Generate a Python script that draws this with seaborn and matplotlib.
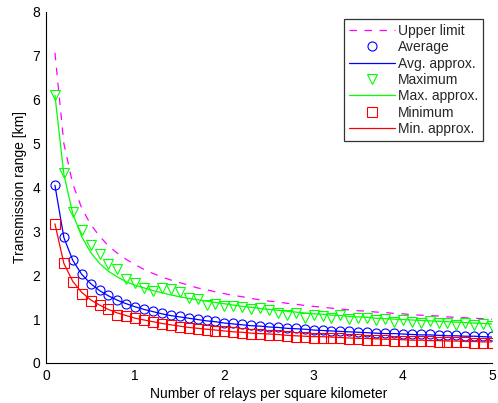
import matplotlib
matplotlib.use("Agg")
import matplotlib.pyplot as plt
import seaborn as sns
import pandas as pd

# Relay density (relays per km^2)
density = [0.1, 0.2, 0.3, 0.4, 0.5, 0.6, 0.7, 0.8, 0.9, 1.0,
           1.1, 1.2, 1.3, 1.4, 1.5, 1.6, 1.7, 1.8, 1.9, 2.0,
           2.1, 2.2, 2.3, 2.4, 2.5, 2.6, 2.7, 2.8, 2.9, 3.0,
           3.1, 3.2, 3.3, 3.4, 3.5, 3.6, 3.7, 3.8, 3.9, 4.0,
           4.1, 4.2, 4.3, 4.4, 4.5, 4.6, 4.7, 4.8, 4.9, 5.0]

# Theoretical upper limit of the transmission range [km]
upper_limit = [7.07, 5.00, 4.08, 3.53, 3.16, 2.89, 2.67, 2.50, 2.36, 2.24,
               2.13, 2.04, 1.96, 1.89, 1.83, 1.77, 1.71, 1.67, 1.62, 1.58,
               1.54, 1.51, 1.47, 1.44, 1.41, 1.39, 1.36, 1.34, 1.31, 1.29,
               1.27, 1.25, 1.23, 1.21, 1.19, 1.18, 1.16, 1.15, 1.13, 1.12,
               1.10, 1.09, 1.08, 1.07, 1.05, 1.04, 1.03, 1.02, 1.01, 1.00]

# Simulated average range and its approximation
average = [4.05, 2.87, 2.34, 2.03, 1.81, 1.66, 1.54, 1.44, 1.35, 1.28,
           1.23, 1.18, 1.13, 1.09, 1.06, 1.03, 1.00, 0.97, 0.95, 0.92,
           0.90, 0.88, 0.86, 0.85, 0.83, 0.82, 0.80, 0.79, 0.78, 0.76,
           0.75, 0.74, 0.73, 0.72, 0.71, 0.70, 0.69, 0.69, 0.68, 0.67,
           0.66, 0.66, 0.65, 0.64, 0.64, 0.63, 0.62, 0.62, 0.61, 0.61]
avg_approx = [4.05, 2.86, 2.34, 2.02, 1.81, 1.65, 1.53, 1.43, 1.35, 1.28,
              1.22, 1.17, 1.12, 1.08, 1.05, 1.02, 0.99, 0.96, 0.94, 0.91,
              0.89, 0.87, 0.85, 0.84, 0.82, 0.81, 0.79, 0.78, 0.77, 0.75,
              0.74, 0.73, 0.72, 0.71, 0.70, 0.69, 0.68, 0.67, 0.67, 0.66,
              0.65, 0.64, 0.64, 0.63, 0.62, 0.62, 0.61, 0.61, 0.60, 0.59]

# Simulated maximum range and its approximation
maximum = [6.10, 4.32, 3.45, 3.03, 2.69, 2.48, 2.25, 2.14, 1.92, 1.82,
           1.72, 1.65, 1.72, 1.68, 1.62, 1.47, 1.46, 1.32, 1.34, 1.29,
           1.31, 1.27, 1.22, 1.25, 1.20, 1.13, 1.10, 1.15, 1.03, 1.10,
           1.06, 1.03, 1.10, 1.00, 1.02, 1.03, 0.97, 1.00, 0.93, 0.97,
           0.93, 0.91, 0.95, 0.90, 0.91, 0.87, 0.90, 0.86, 0.88, 0.84]
max_approx = [6.10, 4.30, 3.40, 2.88, 2.52, 2.27, 2.09, 1.96, 1.85, 1.77,
              1.71, 1.65, 1.60, 1.55, 1.51, 1.47, 1.44, 1.41, 1.38, 1.35,
              1.32, 1.29, 1.27, 1.24, 1.22, 1.20, 1.18, 1.16, 1.14, 1.12,
              1.11, 1.09, 1.08, 1.06, 1.05, 1.04, 1.02, 1.01, 1.00, 0.99,
              0.98, 0.97, 0.96, 0.95, 0.94, 0.93, 0.92, 0.91, 0.90, 0.89]

# Simulated minimum range and its approximation
minimum = [3.17, 2.28, 1.84, 1.57, 1.41, 1.32, 1.22, 1.09, 1.06, 1.02,
           0.97, 0.93, 0.89, 0.86, 0.82, 0.80, 0.77, 0.75, 0.73, 0.72,
           0.70, 0.68, 0.67, 0.65, 0.64, 0.63, 0.62, 0.60, 0.59, 0.58,
           0.57, 0.56, 0.56, 0.55, 0.54, 0.53, 0.52, 0.52, 0.51, 0.50,
           0.50, 0.49, 0.49, 0.48, 0.48, 0.47, 0.47, 0.46, 0.46, 0.45]
min_approx = [3.17, 2.27, 1.86, 1.61, 1.44, 1.32, 1.22, 1.14, 1.08, 1.02,
              0.98, 0.94, 0.90, 0.87, 0.84, 0.81, 0.79, 0.77, 0.75, 0.73,
              0.71, 0.70, 0.68, 0.67, 0.66, 0.65, 0.63, 0.62, 0.61, 0.60,
              0.60, 0.59, 0.58, 0.57, 0.56, 0.56, 0.55, 0.54, 0.54, 0.53,
              0.52, 0.52, 0.51, 0.51, 0.50, 0.50, 0.49, 0.49, 0.48, 0.48]

df = pd.DataFrame({
    "density": density,
    "upper": upper_limit,
    "avg": average, "avg_fit": avg_approx,
    "max": maximum, "max_fit": max_approx,
    "min": minimum, "min_fit": min_approx,
})

sns.set_theme(style="white")
plt.rcParams["font.family"] = ["Liberation Sans", "DejaVu Sans"]
plt.rcParams["xtick.direction"] = "in"
plt.rcParams["ytick.direction"] = "in"

fig = plt.figure(figsize=(4.98, 4.03), dpi=100)
ax = fig.add_axes([0.0924, 0.0993, 0.8956, 0.8710])

MAG, BLU, GRN, RED = "#ff00ff", "#0000ff", "#00ff00", "#ff0000"
FS = 10
mk = dict(linestyle="", markersize=6.5, markeredgewidth=0.8,
          markerfacecolor="none")

sns.lineplot(data=df, x="density", y="upper", ax=ax, color=MAG,
             linestyle=(0, (6, 6)), linewidth=0.9, label="Upper limit")
sns.lineplot(data=df, x="density", y="avg", ax=ax, color=BLU, marker="o",
             markeredgecolor=BLU, label="Average", **mk)
sns.lineplot(data=df, x="density", y="avg_fit", ax=ax, color=BLU,
             linewidth=0.9, label="Avg. approx.")
sns.lineplot(data=df, x="density", y="max", ax=ax, color=GRN, marker="v",
             markeredgecolor=GRN, label="Maximum", **mk)
sns.lineplot(data=df, x="density", y="max_fit", ax=ax, color=GRN,
             linewidth=0.9, label="Max. approx.")
sns.lineplot(data=df, x="density", y="min", ax=ax, color=RED, marker="s",
             markeredgecolor=RED, label="Minimum", **mk)
sns.lineplot(data=df, x="density", y="min_fit", ax=ax, color=RED,
             linewidth=0.9, label="Min. approx.")

ax.set_xlim(0, 5)
ax.set_ylim(0, 8)
ax.set_xticks([0, 1, 2, 3, 4, 5])
ax.set_yticks([0, 1, 2, 3, 4, 5, 6, 7, 8])
ax.tick_params(axis="both", direction="in", length=4, width=0.8,
               labelsize=FS, colors="black", pad=4)
for side in ("top", "right"):
    ax.spines[side].set_visible(False)
for side in ("left", "bottom"):
    ax.spines[side].set_color("black")
    ax.spines[side].set_linewidth(0.8)

ax.set_xlabel("Number of relays per square kilometer", fontsize=FS,
              color="black", labelpad=3)
ax.set_ylabel("Transmission range [km]", fontsize=FS, color="black",
              labelpad=4)

leg = ax.legend(loc="upper right", bbox_to_anchor=(0.98, 0.98),
                fontsize=FS, frameon=True, fancybox=False,
                handlelength=3.3, handletextpad=0.25, labelspacing=0.17,
                borderpad=0.35, borderaxespad=0.0)
leg.get_frame().set_edgecolor("black")
leg.get_frame().set_linewidth(0.9)

fig.savefig("out.png", dpi=100)
